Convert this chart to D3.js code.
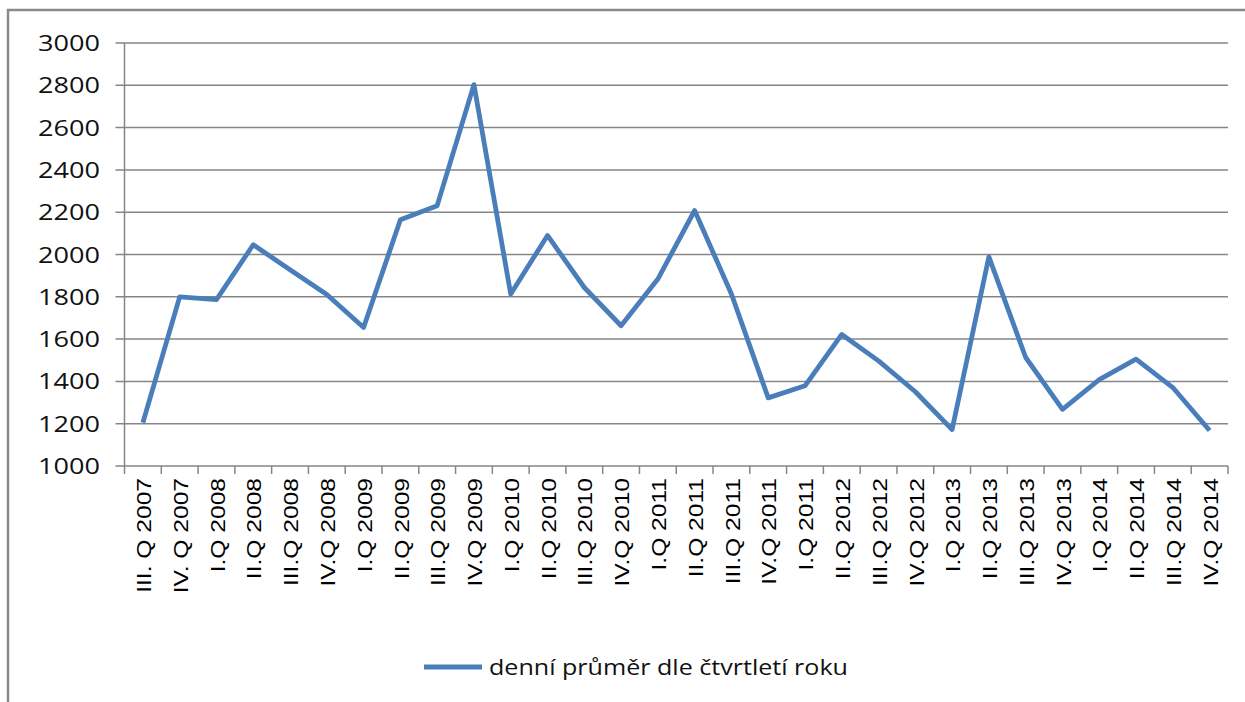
<!DOCTYPE html>
<html lang="cs">
<head>
<meta charset="UTF-8">
<script src="https://d3js.org/d3.v7.min.js"></script>
<title>Denní průměr dle čtvrtletí</title>
<style>
  body { margin: 0; background: #fff; }
  text { font-family: "Liberation Sans", Arial, sans-serif; fill: #000; }
  .soft { font-family: "Open Sans", "Noto Sans", sans-serif; fill: #111; }
</style>
</head>
<body>
<svg id="chart" width="1245" height="702"></svg>
<script>
// quarter labels as printed on the x axis (the second "I.Q 2011" is in the original too)
const categories = [
  "III. Q 2007", "IV. Q 2007",
  "I.Q 2008", "II.Q 2008", "III.Q 2008", "IV.Q 2008",
  "I.Q 2009", "II.Q 2009", "III.Q 2009", "IV.Q 2009",
  "I.Q 2010", "II.Q 2010", "III.Q 2010", "IV.Q 2010",
  "I.Q 2011", "II.Q 2011", "III.Q 2011", "IV.Q 2011",
  "I.Q 2011", "II.Q 2012", "III.Q 2012", "IV.Q 2012",
  "I.Q 2013", "II.Q 2013", "III.Q 2013", "IV.Q 2013",
  "I.Q 2014", "II.Q 2014", "III.Q 2014", "IV.Q 2014"
];
const values = [
  1205, 1800,
  1787, 2046, 1928, 1811,
  1655, 2164, 2231, 2803,
  1813, 2090, 1844, 1663,
  1884, 2208, 1813, 1322,
  1379, 1622, 1497, 1351,
  1172, 1989, 1513, 1268,
  1408, 1505, 1371, 1168
];
const yTicks = [1000, 1200, 1400, 1600, 1800, 2000, 2200, 2400, 2600, 2800, 3000];
const seriesName = "denní průměr dle čtvrtletí roku";

const svg = d3.select("#chart");
const plot = {left: 124.5, right: 1228, top: 43, bottom: 466};
const gridColor = "#868686";
const lineColor = "#4a7ebb";

// outer chart frame (only left and top edges are visible in the picture)
svg.append("rect")
  .attr("x", 8).attr("y", 10)
  .attr("width", 1270).attr("height", 730)
  .attr("fill", "none")
  .attr("stroke", "#8a8a8a")
  .attr("stroke-width", 2.5);

const x = d3.scaleBand().domain(d3.range(categories.length))
  .range([plot.left, plot.right]);
const y = d3.scaleLinear().domain([1000, 3000]).range([plot.bottom, plot.top]);

// horizontal gridlines + little ticks left of the axis
svg.append("g").selectAll("line")
  .data(yTicks)
  .join("line")
  .attr("x1", plot.left - 9)
  .attr("x2", plot.right)
  .attr("y1", d => y(d))
  .attr("y2", d => y(d))
  .attr("stroke", gridColor)
  .attr("stroke-width", 1.5);

// y axis line
svg.append("line")
  .attr("x1", plot.left).attr("x2", plot.left)
  .attr("y1", plot.top).attr("y2", plot.bottom)
  .attr("stroke", gridColor).attr("stroke-width", 1.5);

// y labels, glyphs are stretched wide like in the source image
svg.append("g").selectAll("text")
  .data(yTicks)
  .join("text")
  .attr("class", "soft")
  .attr("x", 38)
  .attr("y", d => y(d) + 8)
  .attr("font-size", 22)
  .attr("textLength", 62)
  .attr("lengthAdjust", "spacingAndGlyphs")
  .text(d => d);

// x tick marks on category boundaries
const bounds = categories.map((c, i) => x(i)).concat([plot.right]);
svg.append("g").selectAll("line")
  .data(bounds)
  .join("line")
  .attr("x1", d => d).attr("x2", d => d)
  .attr("y1", plot.bottom).attr("y2", plot.bottom + 8)
  .attr("stroke", gridColor).attr("stroke-width", 1.5);

// x labels, rotated
const xLabels = svg.append("g").selectAll("text")
  .data(categories)
  .join("text")
  .attr("transform", (d, i) => `translate(${x(i) + x.bandwidth() / 2 + 1},${plot.bottom + 12}) rotate(-90)`)
  .attr("text-anchor", "end")
  .attr("dy", "0.36em")
  .attr("font-size", 20)
  .attr("fill", "#111")
  .text(d => d);
xLabels.each(function() {
  const len = this.getComputedTextLength();
  d3.select(this).attr("textLength", len * 1.23).attr("lengthAdjust", "spacingAndGlyphs");
});

// the series line
const line = d3.line()
  .x((d, i) => x(i) + x.bandwidth() / 2)
  .y(d => y(d));

svg.append("path")
  .datum(values)
  .attr("fill", "none")
  .attr("stroke", lineColor)
  .attr("stroke-width", 4.8)
  .attr("stroke-linejoin", "round")
  .attr("d", line);

// legend
svg.append("line")
  .attr("x1", 424).attr("x2", 482)
  .attr("y1", 667).attr("y2", 667)
  .attr("stroke", lineColor).attr("stroke-width", 5);

svg.append("text")
  .attr("class", "soft")
  .attr("x", 489).attr("y", 675)
  .attr("font-size", 22)
  .attr("textLength", 359)
  .attr("lengthAdjust", "spacingAndGlyphs")
  .text(seriesName);
</script>
</body>
</html>
